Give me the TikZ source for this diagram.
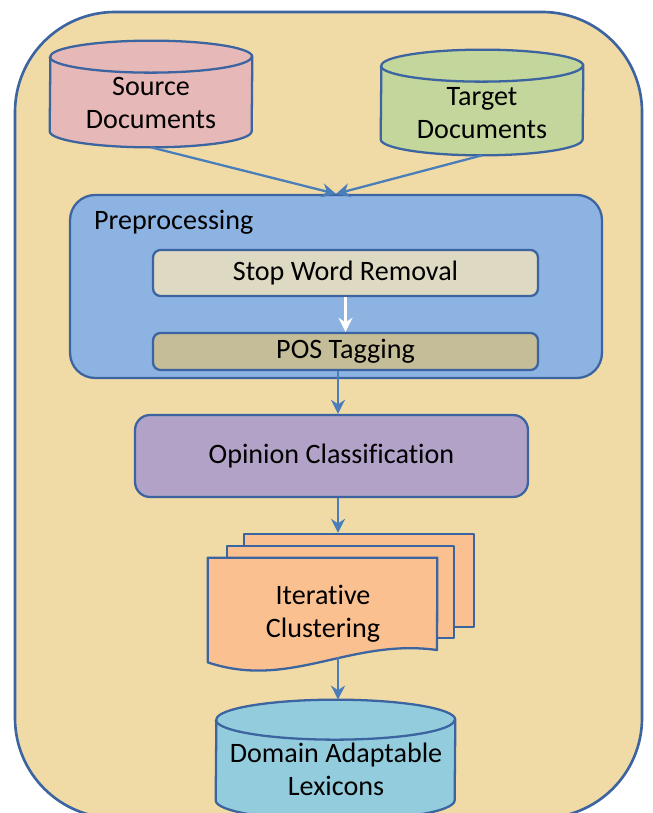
\documentclass[tikz,border=0pt]{standalone}
\usepackage{fontspec}
\setmainfont{Carlito}[Ligatures=NoCommon]
\usetikzlibrary{arrows.meta}
\definecolor{edgeblue}{HTML}{3B64A0}
\definecolor{arrowblue}{HTML}{4A7EBB}
\definecolor{papyrus}{HTML}{F0DBA6}
\definecolor{srcpink}{HTML}{E6B9B8}
\definecolor{tgtgreen}{HTML}{C3D69B}
\definecolor{prebl}{HTML}{8DB3E2}
\definecolor{stopgr}{HTML}{DDD9C3}
\definecolor{posgr}{HTML}{C4BD97}
\definecolor{oppurple}{HTML}{B3A2C7}
\definecolor{clorange}{HTML}{FAC090}
\definecolor{domcyan}{HTML}{93CDDD}
% cylinder drawn round a body node: name, fill, x radius, y radius
\newcommand{\drawdb}[4]{%
	\path[fill=#2, draw=edgeblue, line width=1.3pt] (#1.south west)
		arc[start angle=180, end angle=360, x radius=#3, y radius=#4] -- (#1.north east)
		arc[start angle=0, end angle=180, x radius=#3, y radius=#4] -- cycle;
	\draw[edgeblue, line width=1.3pt] (#1.north west)
		arc[start angle=180, end angle=360, x radius=#3, y radius=#4];}
\begin{document}
\begin{tikzpicture}[x=0.02cm,y=-0.02cm, font=\fontsize{16}{18.7}\selectfont, line join=round,
	box/.style={draw=edgeblue, line width=1.3pt, rounded corners=0.15cm, align=center, inner sep=0pt},
	dbbody/.style={inner sep=0pt, align=center},
	page/.style={draw=edgeblue, line width=1.3pt, fill=clorange, inner sep=0pt},
	flow/.style={-{Stealth[length=8pt,width=8pt]}, draw=arrowblue, line width=1.3pt}]
	\useasboundingbox (0,0) rectangle (652,813);
	% background
	\path[fill=papyrus, draw=edgeblue, line width=1.5pt, rounded corners=2cm] (15,12) rectangle (642,818);
	\coordinate (axis) at (338,0);
	% data sources
	\node[dbbody, minimum width=4.04cm, minimum height=1.48cm] (src) at (151,94) {};
	\drawdb{src}{srcpink}{2.02cm}{0.32cm}
	\node[align=center] (srctxt) at (151,103) {Source\\Documents};
	\node[dbbody, minimum width=4.04cm, minimum height=1.46cm] (tgt) at (482,102.5) {};
	\drawdb{tgt}{tgtgreen}{2.02cm}{0.32cm}
	\node[align=center] (tgttxt) at (482,113) {Target\\Documents};
	% preprocessing
	\node[box, fill=prebl, rounded corners=0.5cm, minimum width=10.64cm, minimum height=3.66cm] (pre) at (336,286.5) {};
	\node[anchor=west] (pretxt) at (88,222) {Preprocessing};
	\node[box, fill=stopgr, minimum width=7.7cm, minimum height=0.92cm] (stop) at (345.5,273) {Stop Word Removal};
	\node[box, fill=posgr, minimum width=7.7cm, minimum height=0.74cm] (pos) at (345.5,351.5) {POS Tagging};
	% classification
	\node[box, fill=oppurple, rounded corners=0.3cm, minimum width=7.86cm, minimum height=1.64cm] (op) at (331.5,456) {Opinion Classification};
	% clustering pages
	\node[page, minimum width=4.6cm, minimum height=1.86cm] (back) at (359,580.5) {};
	\node[page, minimum width=4.54cm, minimum height=1.84cm] (mid) at (340.5,592) {};
	\node[inner sep=0pt, minimum width=4.58cm, minimum height=2.08cm] (front) at (322.5,610) {};
	\path[page] (front.south west) -- (front.north west) -- (front.north east) -- (437,650)
		.. controls (350,638) and (290,690) .. (front.south west) -- cycle;
	\node[align=center] (cltxt) at (323,614) {Iterative\\Clustering};
	\coordinate (clout) at (338,657);
	% lexicon
	\node[dbbody, minimum width=4.78cm, minimum height=1.6cm] (dom) at (335.5,760) {};
	\drawdb{dom}{domcyan}{2.39cm}{0.4cm}
	\node[align=center] (domtxt) at (336,769) {Domain Adaptable\\Lexicons};
	\path (dom.north) ++(0,-20) coordinate (domtop);
	% connectors
	\draw[flow] (src.south) ++(0,16) -- (pre.north);
	\draw[flow] (tgt.south) ++(0,16) -- (pre.north);
	\draw[flow, draw=white] (stop.south) -- (pos.north);
	\draw[flow] (pos.south -| axis) -- (op.north -| axis);
	\draw[flow] (op.south -| axis) -- (back.north -| axis);
	\draw[flow] (clout) -- (domtop -| axis);
\end{tikzpicture}
\end{document}
